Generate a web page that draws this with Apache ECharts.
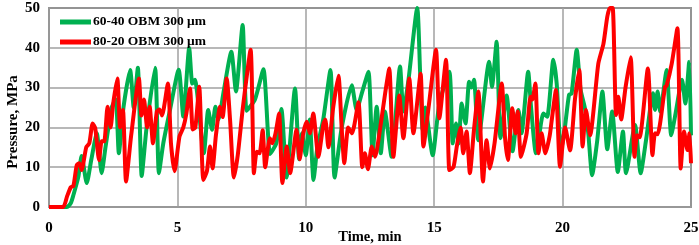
<!DOCTYPE html>
<html>
<head>
<meta charset="utf-8">
<script src="https://cdn.jsdelivr.net/npm/echarts@6/dist/echarts.min.js"></script>
<style>
  html, body { margin: 0; padding: 0; background: #fff; }
</style>
</head>
<body>
<div id="chart" style="width: 699px; height: 245px;"></div>
<script>
// [time (min), pressure (MPa)]
const green6040 = [
  [0, 0], [0.7, 0], [0.85, 1], [0.95, 3], [1.14, 7.5], [1.27, 12.8], [1.47, 6], [1.65, 12],
  [1.86, 18.5], [2.05, 8.5], [2.2, 15], [2.44, 25], [2.6, 27], [2.72, 13.5], [2.9, 25],
  [3.16, 34.4], [3.3, 25], [3.46, 35], [3.61, 7.8], [3.8, 20], [4.13, 35], [4.28, 8.5],
  [4.45, 16], [4.7, 24], [5.05, 34.5], [5.23, 22.7], [5.46, 40], [5.58, 31], [5.68, 32],
  [6.03, 13.5], [6.2, 24.4], [6.35, 19.4], [6.48, 25.2], [6.6, 22], [6.8, 29], [7.1, 39],
  [7.28, 29], [7.54, 45.7], [7.7, 24.2], [8.02, 27], [8.35, 34.6], [8.61, 13.3], [8.85, 16],
  [9.05, 24.6], [9.25, 7.4], [9.58, 29.8], [9.74, 12], [9.85, 18.5], [10.0, 13], [10.15, 22],
  [10.3, 6.8], [10.45, 15], [10.68, 22], [10.96, 34.4], [11.12, 7.4], [11.4, 20], [11.79, 30.6],
  [11.98, 24.4], [12.2, 29], [12.44, 34], [12.6, 13], [12.76, 25.2], [12.92, 13.5], [13.08, 24],
  [13.34, 12.6], [13.67, 35.3], [13.8, 24], [14.0, 32], [14.34, 50], [14.45, 34], [14.55, 19.3],
  [14.65, 25], [14.94, 13], [15.2, 26], [15.59, 34], [15.72, 16], [15.85, 21], [15.95, 16],
  [16.07, 26], [16.22, 21], [16.36, 31.5], [16.45, 30], [16.55, 32], [16.72, 16.8], [17.14, 36.5],
  [17.25, 30.2], [17.43, 41.5], [17.58, 17.3], [17.82, 28], [18.05, 14], [18.28, 24.4], [18.4, 18.5],
  [18.66, 34], [18.77, 25.2], [18.96, 13.5], [19.1, 18.5], [19.25, 23.5], [19.4, 22.7], [19.64, 37],
  [19.77, 31], [19.94, 13.9], [20.09, 20], [20.25, 28.2], [20.35, 28.5], [20.55, 39.5], [20.7, 29.5],
  [20.87, 24.8], [21.0, 18.5], [21.15, 8], [21.35, 16.8], [21.55, 29], [21.74, 14.5], [21.93, 24],
  [22.15, 8.8], [22.35, 19], [22.47, 8.5], [22.82, 20.6], [23.04, 8.5], [23.26, 17.3], [23.52, 28.6],
  [23.6, 24.4], [23.7, 29], [23.8, 24], [24.05, 34.4], [24.23, 18], [24.4, 23.5], [24.65, 32],
  [24.78, 26], [24.93, 36.5], [25, 18]
];

const red8020 = [
  [0, 0], [0.55, 0], [0.7, 2.6], [0.85, 5], [0.95, 5.3], [1.08, 10.5], [1.18, 11], [1.27, 9.3],
  [1.45, 15], [1.57, 16], [1.7, 21], [1.8, 19.8], [1.95, 11.8], [2.05, 16.5], [2.15, 16.5],
  [2.28, 25.2], [2.4, 20], [2.5, 26], [2.66, 32.3], [2.77, 20], [2.88, 24.4], [3.0, 6.4], [3.2, 18],
  [3.5, 32.3], [3.6, 23], [3.7, 27], [3.82, 20], [3.92, 25.2], [4.05, 16], [4.2, 24], [4.3, 24.5],
  [4.4, 23], [4.63, 31], [4.75, 16], [4.89, 9], [5.08, 17.7], [5.23, 20], [5.35, 23.5], [5.49, 29.8],
  [5.6, 19.5], [5.7, 20], [5.85, 30.2], [6.01, 6.8], [6.15, 9], [6.27, 15.2], [6.37, 9.7], [6.5, 18],
  [6.66, 25.2], [6.76, 22.6], [6.92, 32.3], [7.05, 22], [7.2, 7.4], [7.35, 13], [7.55, 25],
  [7.85, 39.5], [7.98, 8.5], [8.09, 13.9], [8.2, 13.5], [8.32, 19.3], [8.42, 10], [8.6, 17.3],
  [8.7, 16], [8.82, 18.5], [8.96, 23.5], [9.09, 6], [9.26, 15.2], [9.39, 8.5], [9.64, 19.4],
  [9.76, 12], [9.9, 18.5], [10.04, 21.4], [10.16, 18.5], [10.29, 23.5], [10.49, 12.6], [10.68, 20.6],
  [10.76, 22], [10.88, 15], [11.07, 25.2], [11.27, 33], [11.4, 19.5], [11.5, 11], [11.65, 20],
  [11.8, 18.5], [12.05, 26.3], [12.2, 10], [12.3, 13.5], [12.42, 9.5], [12.57, 15.2], [12.7, 12.6],
  [12.9, 20], [13.1, 29], [13.25, 34.8], [13.41, 12.6], [13.64, 28], [13.8, 17.3], [14.03, 32.3],
  [14.19, 18.5], [14.47, 33.5], [14.58, 15.2], [14.8, 26], [15.07, 39.5], [15.2, 22.3], [15.46, 37],
  [15.59, 9.3], [15.75, 10], [15.88, 15.2], [16.03, 20], [16.13, 13.5], [16.26, 19], [16.39, 8.5],
  [16.55, 19.5], [16.72, 29], [16.9, 6.4], [17.04, 16.8], [17.17, 9.7], [17.35, 16], [17.63, 31],
  [17.76, 17.3], [17.87, 11.8], [18.04, 24.8], [18.17, 18.5], [18.25, 24], [18.38, 12.6], [18.6, 18.5],
  [18.75, 27.7], [18.82, 27], [18.94, 31], [19.06, 13.5], [19.18, 18.5], [19.33, 13.5], [19.5, 18],
  [19.6, 23], [19.74, 29.4], [19.9, 10.1], [20.1, 20], [20.29, 14.2], [20.48, 27], [20.65, 34.4],
  [20.78, 15.2], [20.91, 24.4], [21.07, 18], [21.39, 36], [21.59, 41], [21.74, 47.8], [21.84, 50],
  [21.95, 50], [22.08, 23.1], [22.17, 27.7], [22.28, 22], [22.45, 30], [22.65, 37.6], [22.8, 12.6],
  [22.9, 18], [23.0, 17.5], [23.32, 34.8], [23.5, 13], [23.6, 18.5], [23.7, 18.3], [23.99, 30.2],
  [24.05, 30.5], [24.25, 36], [24.47, 44.9], [24.6, 9.7], [24.73, 19], [24.86, 14.3], [24.94, 18.5],
  [25, 11]
];

const seriesNames = ['60-40 OBM 300 \u03bcm', '80-20 OBM 300 \u03bcm'];
const seriesColors = ['#00b050', '#ff0000'];

const serif = '"Liberation Serif", "DejaVu Serif", serif';

const chart = echarts.init(document.getElementById('chart'));

const option = {
  animation: false,
  grid: {
    left: 49,
    right: 8,
    top: 8,
    bottom: 38,
    containLabel: false,
    outerBoundsMode: 'none',
    show: true,
    borderColor: '#404040',
    borderWidth: 1.5
  },
  legend: {
    orient: 'vertical',
    left: 55,
    top: 10,
    itemWidth: 31,
    itemHeight: 5,
    itemGap: 6,
    icon: 'rect',
    textStyle: {
      fontFamily: serif,
      fontWeight: 'bold',
      fontSize: 13.5,
      color: '#000',
      padding: [0, 0, 0, -3]
    },
    data: seriesNames
  },
  xAxis: {
    type: 'value',
    min: 0,
    max: 25,
    interval: 5,
    name: 'Time, min',
    nameLocation: 'middle',
    nameGap: 23,
    nameMoveOverlap: false,
    nameTextStyle: {fontFamily: serif, fontWeight: 'bold', fontSize: 14.5, color: '#000'},
    axisLine: {show: true, lineStyle: {color: '#999', width: 1.5}},
    axisTick: {show: false},
    axisLabel: {fontFamily: serif, fontWeight: 'bold', fontSize: 15, color: '#000', margin: 14},
    splitLine: {show: true, lineStyle: {color: '#a0a0a0', width: 1.5}}
  },
  yAxis: {
    type: 'value',
    min: 0,
    max: 50,
    interval: 10,
    axisLine: {show: true, lineStyle: {color: '#999', width: 1.5}},
    axisTick: {show: false},
    axisLabel: {fontFamily: serif, fontWeight: 'bold', fontSize: 15, color: '#000', margin: 9},
    splitLine: {show: true, lineStyle: {color: '#a0a0a0', width: 1.5}}
  },
  graphic: [
    {
      type: 'text',
      x: 13,
      y: 122,
      rotation: Math.PI / 2,
      style: {
        text: 'Pressure, MPa',
        fontFamily: serif,
        fontWeight: 'bold',
        fontSize: 15,
        fill: '#000',
        textAlign: 'center',
        textVerticalAlign: 'middle'
      }
    }
  ],
  series: [
    {
      name: seriesNames[0],
      type: 'line',
      data: green6040,
      smooth: 0.2,
      showSymbol: false,
      lineStyle: {color: seriesColors[0], width: 4},
      itemStyle: {color: seriesColors[0]}
    },
    {
      name: seriesNames[1],
      type: 'line',
      data: red8020,
      smooth: 0.2,
      showSymbol: false,
      lineStyle: {color: seriesColors[1], width: 4},
      itemStyle: {color: seriesColors[1]}
    }
  ]
};

chart.setOption(option);
</script>
</body>
</html>
